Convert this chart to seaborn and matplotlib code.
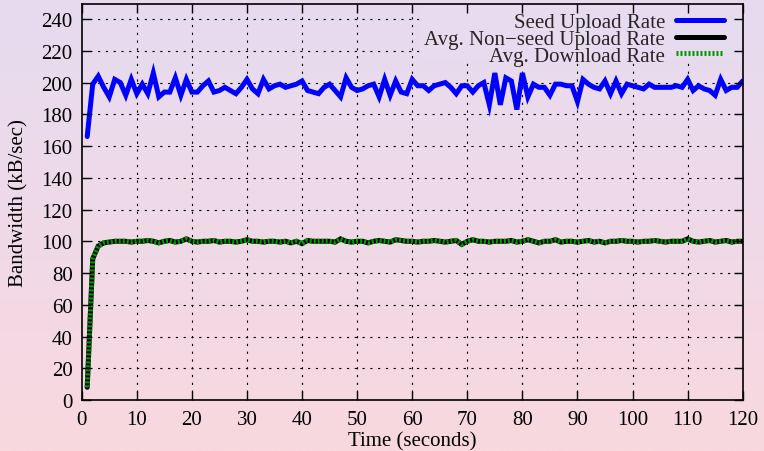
import numpy as np
import pandas as pd
import matplotlib
matplotlib.use("Agg")
import matplotlib.pyplot as plt
from matplotlib.patches import Rectangle
import seaborn as sns

# ---- data ----
time_s = list(range(1, 121))
seed_upload = [
    166, 199, 204, 197, 191, 202, 200, 192, 202, 193,
    199, 193, 206, 191, 194, 194, 203, 192, 202, 194,
    194, 198, 201, 194, 195, 197, 195, 193, 197, 202,
    196, 193, 202, 196, 198, 199, 197, 198, 199, 201,
    195, 194, 193, 197, 199, 195, 191, 203, 197, 195,
    196, 198, 199, 191, 202, 192, 201, 194, 193, 202,
    198, 198, 195, 198, 199, 200, 197, 193, 198, 198,
    194, 198, 200, 186, 206, 186, 203, 201, 183, 206,
    191, 199, 197, 197, 192, 199, 199, 198, 198, 188,
    202, 199, 197, 196, 201, 193, 201, 193, 199, 198,
    197, 196, 199, 197, 197, 197, 197, 198, 197, 202,
    195, 198, 196, 195, 192, 202, 195, 197, 197, 201,
]
avg_download = [
    8, 89, 97, 99, 99.5,
    100, 100, 100, 99.5, 100, 100, 100.5, 100, 99, 100,
    100.5, 99.5, 100, 101.5, 100, 99.5, 100, 100, 100.5, 99.5,
    100, 100, 99.5, 100, 101, 100, 100, 99.5, 100, 100,
    99.5, 100, 99, 100, 98.5, 100.5, 100, 100, 100, 100,
    99.5, 101.5, 100, 99.5, 100, 100, 99, 100, 100.5, 100,
    99.5, 101, 100.5, 100, 100, 99.5, 100, 100, 100.5, 100,
    99.5, 100, 100.5, 98, 100, 101, 100, 100, 99.5, 100,
    100, 100, 100.5, 99.5, 100, 101, 100, 99, 100, 100,
    101, 99.5, 100, 100, 99.5, 100, 100.5, 99.5, 100, 99,
    100, 100, 100.5, 100, 100, 99.5, 100, 100, 100.5, 100,
    99.5, 100, 100, 100, 101.5, 100, 99.5, 100, 100.5, 99.5,
    100, 100.5, 99.5, 100, 100,
]
avg_nonseed_upload = list(avg_download)

series_labels = ["Seed Upload Rate", "Avg. Non\u2212seed Upload Rate", "Avg. Download Rate"]
x_ticks = list(range(0, 121, 10))
y_ticks = list(range(0, 241, 20))

assert len(seed_upload) == len(time_s) == len(avg_download)

df = pd.DataFrame({"t": time_s, "seed": seed_upload,
                   "nonseed": avg_nonseed_upload, "down": avg_download})

# ---- style ----
sns.set_style("ticks")
plt.rcParams["font.family"] = ["Liberation Serif", "DejaVu Serif"]

FS = 15
W, H = 764, 452
fig = plt.figure(figsize=(W / 100, H / 100), dpi=100)

# background gradient
top = np.array([230, 219, 240]) / 255
bot = np.array([249, 216, 223]) / 255
bg = fig.add_axes([0, 0, 1, 1], zorder=-10)
f = np.linspace(0, 1, 256)[:, None]
grad = top[None, :] * (1 - f) + bot[None, :] * f
bg.imshow(grad[:, None, :], aspect="auto", extent=[0, 1, 0, 1])
bg.set_axis_off()

left, right, ytop, ybot = 81.7, 742.7, 5, 401
aw = right - left
ah = ybot - ytop
ax = fig.add_axes([left / W, (H - ybot) / H, aw / W, ah / H])
ax.set_facecolor("none")

ax.set_xlim(0, 120)
ax.set_ylim(0, 249.5)

# dotted grid (drawn below everything)
grid_kw = dict(color="black", linewidth=0.8, linestyle=(0, (2, 5)), zorder=0.5)
for xv in x_ticks[1:-1]:
    ax.axvline(xv, **grid_kw)
for yv in y_ticks[1:]:
    ax.axhline(yv, **grid_kw)

# opaque key box
fk = 34 / H
key_col = top * (1 - fk) + bot * fk
ax.add_patch(Rectangle(((421 - left) / aw, (ybot - 62) / ah),
                       1 - (421 - left) / aw, 1, transform=ax.transAxes,
                       facecolor=key_col, edgecolor="none", zorder=1,
                       clip_on=True))

lw = 3.6
sns.lineplot(data=df, x="t", y="seed", ax=ax, color="#0000ff", linewidth=lw,
             label=series_labels[0], solid_joinstyle="miter", zorder=2)
sns.lineplot(data=df, x="t", y="nonseed", ax=ax, color="#000000", linewidth=lw,
             label=series_labels[1], solid_joinstyle="miter", zorder=2)
sns.lineplot(data=df, x="t", y="down", ax=ax, color="#009a00", linewidth=lw,
             label=series_labels[2], zorder=2)
lines = ax.get_lines()
dl = [l for l in lines if l.get_label() == series_labels[2]][0]
dl.set_dashes((0.4, 0.4))

ax.set_xlim(0, 120)
ax.set_ylim(0, 249.5)
ax.set_axisbelow(False)
ax.set_xticks(x_ticks)
ax.set_yticks(y_ticks)
ax.set_xticklabels([str(v) for v in x_ticks])
ax.set_yticklabels([str(v) for v in y_ticks])
ax.tick_params(direction="in", length=6.5, width=1.0, labelsize=FS,
               top=True, right=True, color="black", labelcolor="black")
ax.tick_params(axis="x", pad=7)
ax.tick_params(axis="y", pad=6.5)
for sp in ax.spines.values():
    sp.set_visible(True)
    sp.set_color("black")
    sp.set_linewidth(1.2)
    sp.set_zorder(3)

ax.set_xlabel("Time (seconds)", fontsize=FS, color="black")
ax.set_ylabel("Bandwidth (kB/sec)", fontsize=FS, color="black")
ax.xaxis.set_label_coords(0.5, -0.078)
ax.yaxis.set_label_coords(-0.081, 0.5)

leg = ax.legend(loc="upper right",
                bbox_to_anchor=((724 - left) / aw, (ybot - 13.5) / ah),
                frameon=False, markerfirst=False, fontsize=FS,
                handlelength=2.3, handletextpad=0.53, labelspacing=-0.135,
                borderpad=0, borderaxespad=0)
leg.set_zorder(4)
for h in leg.legend_handles:
    h.set_linewidth(lw)
leg.legend_handles[2].set_dashes((0.4, 0.4))

fig.savefig("out.png", dpi=100)
